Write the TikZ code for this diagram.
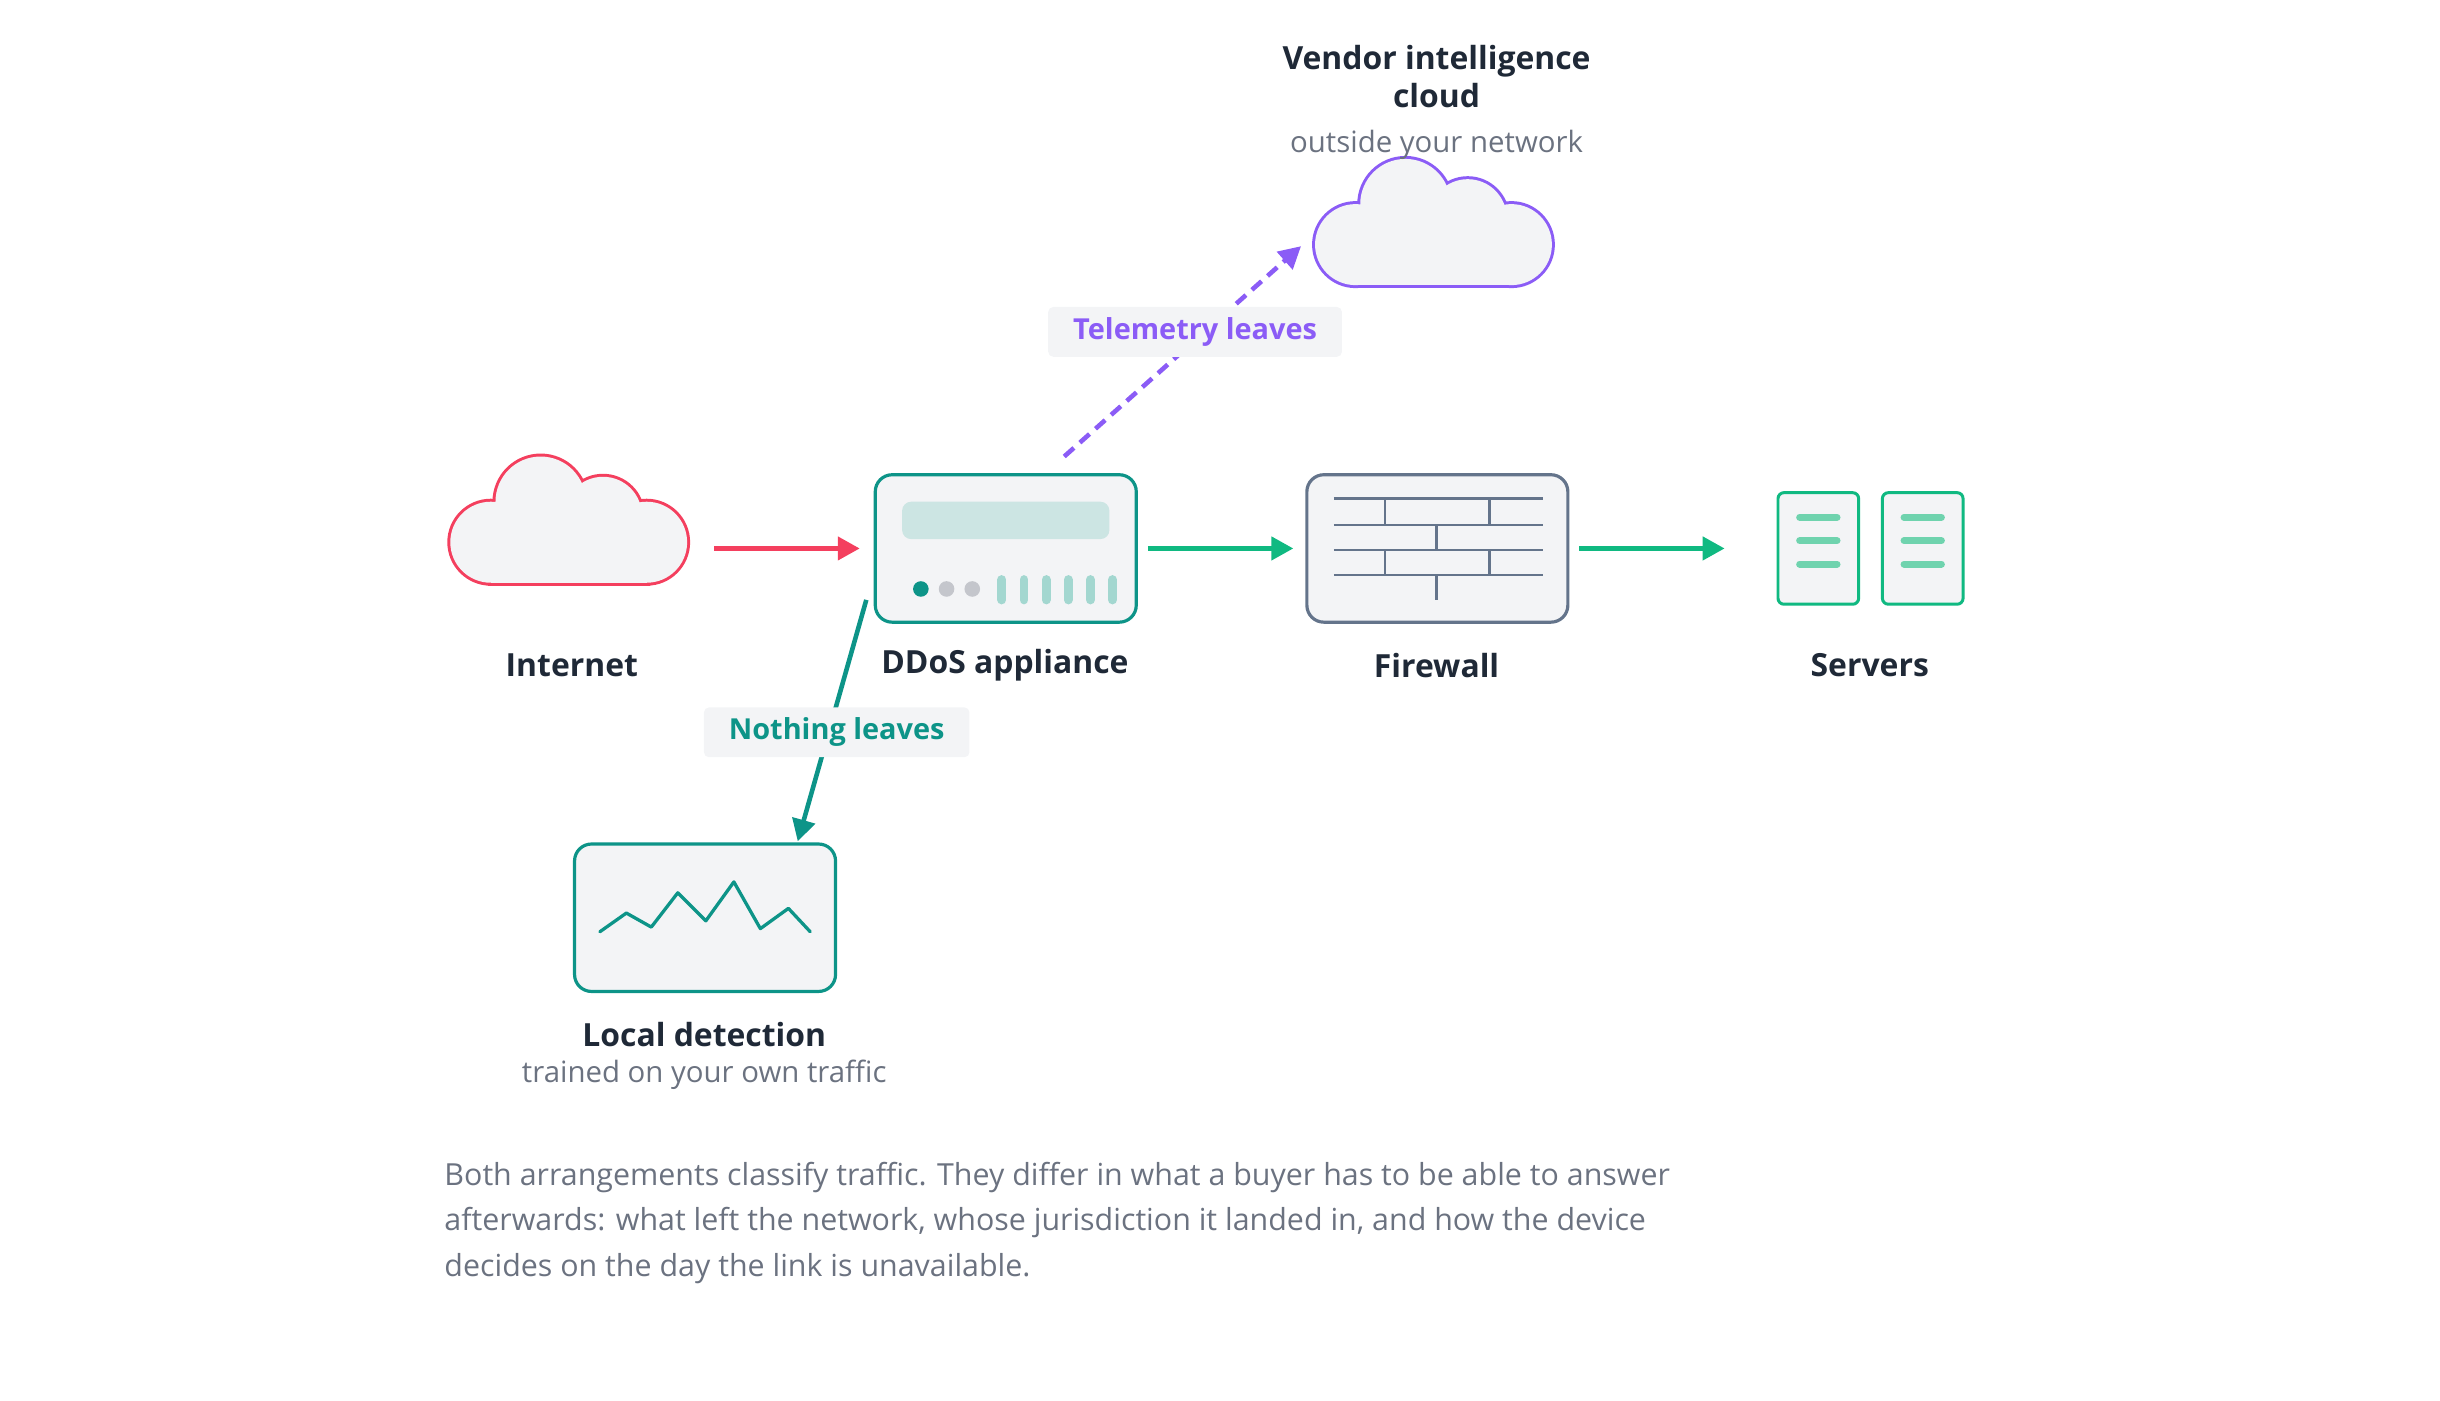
\documentclass[tikz,border=0pt]{standalone}
\usepackage{fontspec}
\setmainfont{Open Sans}
\usetikzlibrary{arrows.meta}
\definecolor{bg}{HTML}{F3F4F6}
\definecolor{red1}{HTML}{F43F5E}
\definecolor{teal1}{HTML}{0D9488}
\definecolor{green1}{HTML}{10B981}
\definecolor{slate1}{HTML}{64748B}
\definecolor{purp}{HTML}{8B5CF6}
\definecolor{ink}{HTML}{1F2937}
\definecolor{gray1}{HTML}{6B7280}
\definecolor{lteal}{HTML}{CCE5E3}
\definecolor{mteal}{HTML}{A3D7D0}
\definecolor{dots}{HTML}{C4C6CC}
\definecolor{sbar}{HTML}{6FD3AE}
\tikzset{
  x=1.5641pt,y=-1.5641pt,
  box/.style={draw=#1,fill=bg,line width=3.2pt,rounded corners=17pt,minimum width=262pt,minimum height=148pt,inner sep=0},
  title/.style={font=\fontsize{32}{38}\selectfont\bfseries,text=ink,align=center},
  sub/.style={font=\fontsize{29.5}{34}\selectfont,text=gray1},
  arr/.style={line width=4.6pt,-{Triangle[length=22pt,width=23pt]},draw=#1,color=#1},
  tag/.style={fill=bg,rounded corners=5pt,font=\fontsize{29}{34}\selectfont\bfseries,text=#1,minimum height=50pt,inner xsep=25pt},
  cloudshape/.pic={
    \foreach \pass in {1,2}{
      \ifnum\pass=1 \tikzset{cl/.style={draw=#1,fill=bg,line width=6pt}}\else\tikzset{cl/.style={fill=bg}}\fi
      \path[cl] (-18,-16) circle[radius=29];
      \path[cl] (22,-7) circle[radius=25];
      \path[cl] (50,10) circle[radius=26];
      \path[cl] (-50,10) circle[radius=26];
      \path[cl] (-50,-8) rectangle (50,36);
    }
  }
}
\begin{document}
\begin{tikzpicture}
\useasboundingbox (0,0) rectangle (1566,899);
% Internet
\pic at (365,338) {cloudshape=red1};
\node[minimum width=236pt,minimum height=127pt,inner sep=0] (inet) at (365,335) {};
\node[title] at (367,427) {Internet};
% DDoS
\node[box=teal1] (ddos) at (645.5,352) {};
\fill[lteal,rounded corners=9pt] (579,322) rectangle (712,346);
\fill[teal1] (591,378) circle[radius=5];
\fill[dots] (607.5,378) circle[radius=5];
\fill[dots] (624,378) circle[radius=5];
\foreach \i in {0,...,5}{\draw[mteal,line width=9pt,line cap=round] (643+14.2*\i,372)--(643+14.2*\i,385);}
\node[title] at (645,427) {DDoS appliance};
% Firewall
\node[box=slate1] (fw) at (922.5,352) {};
\begin{scope}[slate1,line width=2.6pt]
\foreach \y in {320,337,353,369}{\draw (856,\y)--(990,\y);}
\draw (889,320)--(889,337) (956,320)--(956,337) (922,337)--(922,353) (889,353)--(889,369) (956,353)--(956,369) (922,369)--(922,385);
\end{scope}
\node[title] at (922,427) {Firewall};
% Servers
\node[draw=green1,fill=bg,line width=3pt,rounded corners=6pt,minimum width=81pt,minimum height=112pt,inner sep=0] (s1) at (1167,352) {};
\node[draw=green1,fill=bg,line width=3pt,rounded corners=6pt,minimum width=81pt,minimum height=112pt,inner sep=0] (s2) at (1234,352) {};
\foreach \cx in {1167,1234}{\foreach \y in {332,347,362}{\draw[sbar,line width=7pt,line cap=round] (\cx-12,\y)--(\cx+12,\y);}}
\node[title] at (1200,427) {Servers};
\node[minimum width=187pt,minimum height=113pt,inner sep=0] (srv) at (1200,352) {};
% main arrows
\draw[arr=red1,shorten <=28pt,shorten >=14pt] (inet.east |- ddos.west) -- (ddos.west);
\draw[arr=green1,shorten <=10pt,shorten >=12pt] (ddos.east) -- (fw.west);
\draw[arr=green1,shorten <=10pt,shorten >=52pt] (fw.east) -- (srv.west);
% Vendor cloud
\pic at (920,147) {cloudshape=purp};
\node[title] at (922,49) {Vendor intelligence\\cloud};
\node[sub] at (922,93) {outside your network};
\coordinate (tstart) at (683,293);
\coordinate (tend) at (835,158);
\draw[arr=purp,dash pattern=on 13pt off 8pt] (tstart) -- (tend);
\node[tag=purp] (tl) at (767,213) {Telemetry leaves};
% Local detection
\node[box=teal1] (ld) at (452.5,589) {};
\draw[teal1,line width=3.3pt,line join=round,line cap=round] (385,598)--(402,586)--(418,595)--(435,573)--(453,591)--(471,566)--(488,596)--(506,583)--(520,598);
\coordinate (nstart) at (556,385);
\coordinate (nend) at (512,540);
\draw[arr=teal1] (nstart) -- (nend);
\node[tag=teal1] (nl) at (537,470) {Nothing leaves};
\node[title] at (452,664) {Local detection};
\node[sub] at (452,690) {trained on your own traffic};
% paragraph
\begin{scope}[every node/.style={sub,anchor=base west,font=\fontsize{30.5}{36}\selectfont}]
\node at (283,761) {Both arrangements classify traffic. They differ in what a buyer has to be able to answer};
\node at (283,790) {afterwards: what left the network, whose jurisdiction it landed in, and how the device};
\node at (283,819) {decides on the day the link is unavailable.};
\end{scope}
\end{tikzpicture}
\end{document}
